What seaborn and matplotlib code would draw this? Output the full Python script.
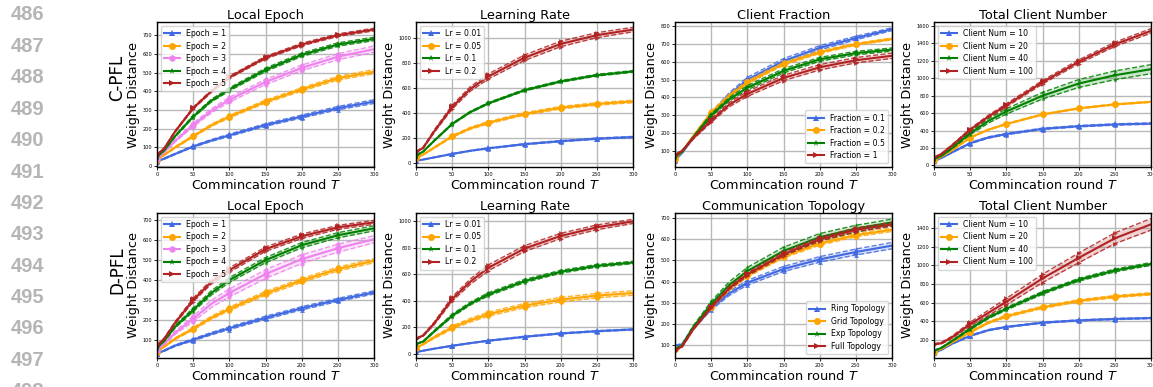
"""
Weight distance vs. communication round for C-PFL and D-PFL settings.
Rebuilds a 2x4 grid of line plots with shaded bands and dashed bounds.
"""

import matplotlib

matplotlib.use("Agg")
import matplotlib.pyplot as plt
import seaborn as sns

# --- 1. Data ---

T = [0, 10, 25, 50, 75, 100, 150, 200, 250, 300]
MARK_IDX = [0, 3, 5, 6, 7, 8]  # markers at 0, 50, ..., 250

BLUE, ORANGE, PINK, GREEN, RED = "#4169E1", "#FFA500", "#EE82EE", "#008000", "#B22222"

# C-PFL, Local Epoch
epoch_labels = ["Epoch = 1", "Epoch = 2", "Epoch = 3", "Epoch = 4", "Epoch = 5"]
c_epoch_mean = [
    [25, 40, 65, 105, 137, 165, 220, 265, 310, 345],
    [35, 60, 100, 160, 218, 265, 345, 410, 470, 505],
    [40, 75, 135, 220, 295, 355, 450, 525, 585, 625],
    [50, 85, 160, 265, 350, 410, 515, 595, 650, 680],
    [60, 95, 185, 310, 400, 475, 580, 650, 700, 730],
]
c_epoch_spread = [
    [2, 3, 3, 4, 5, 6, 7, 8, 9, 10],
    [2, 3, 4, 5, 6, 7, 8, 9, 10, 11],
    [3, 4, 6, 9, 11, 13, 14, 15, 16, 17],
    [2, 3, 4, 6, 7, 8, 9, 9, 9, 9],
    [2, 3, 4, 5, 6, 6, 7, 7, 7, 7],
]

# C-PFL, Learning Rate
lr_labels = ["Lr = 0.01", "Lr = 0.05", "Lr = 0.1", "Lr = 0.2"]
c_lr_mean = [
    [15, 25, 42, 70, 95, 115, 148, 172, 192, 205],
    [35, 65, 120, 210, 275, 320, 390, 440, 470, 490],
    [55, 90, 175, 310, 405, 475, 580, 650, 700, 730],
    [85, 120, 250, 445, 590, 690, 840, 950, 1020, 1065],
]
c_lr_spread = [
    [1, 2, 2, 3, 3, 4, 4, 5, 5, 5],
    [2, 3, 5, 7, 8, 9, 10, 10, 10, 10],
    [2, 3, 4, 5, 6, 6, 7, 7, 7, 7],
    [4, 6, 10, 15, 18, 20, 22, 22, 20, 18],
]

# C-PFL, Client Fraction
frac_labels = ["Fraction = 0.1", "Fraction = 0.2", "Fraction = 0.5", "Fraction = 1"]
c_frac_mean = [
    [45, 90, 175, 305, 415, 500, 605, 680, 735, 785],
    [55, 95, 180, 315, 410, 485, 590, 655, 700, 730],
    [65, 95, 175, 300, 390, 455, 550, 615, 650, 670],
    [75, 100, 170, 270, 360, 420, 510, 570, 610, 635],
]
c_frac_spread = [
    [3, 4, 6, 10, 12, 14, 14, 12, 10, 8],
    [2, 3, 5, 7, 8, 9, 8, 7, 6, 5],
    [2, 3, 5, 8, 10, 12, 12, 11, 10, 9],
    [3, 4, 6, 10, 12, 14, 15, 15, 15, 15],
]

# C-PFL, Total Client Number
num_labels = ["Client Num = 10", "Client Num = 20", "Client Num = 40", "Client Num = 100"]
c_num_mean = [
    [50, 85, 150, 255, 320, 360, 420, 450, 470, 480],
    [60, 100, 175, 320, 410, 475, 585, 655, 700, 730],
    [75, 110, 200, 370, 510, 620, 800, 940, 1035, 1105],
    [90, 130, 230, 410, 560, 690, 955, 1190, 1390, 1545],
]
c_num_spread = [
    [3, 4, 5, 7, 8, 8, 8, 8, 8, 8],
    [3, 4, 5, 6, 6, 6, 6, 6, 6, 6],
    [4, 6, 10, 18, 25, 30, 38, 45, 50, 52],
    [4, 6, 8, 12, 15, 18, 20, 22, 24, 26],
]

# D-PFL, Local Epoch
d_epoch_mean = [
    [30, 45, 70, 100, 130, 158, 210, 258, 300, 338],
    [40, 65, 105, 155, 210, 255, 333, 398, 455, 497],
    [50, 80, 135, 205, 280, 335, 430, 505, 560, 605],
    [60, 95, 165, 250, 335, 400, 500, 575, 625, 660],
    [70, 105, 185, 300, 390, 450, 555, 620, 665, 690],
]
d_epoch_spread = [
    [2, 3, 4, 5, 6, 7, 8, 8, 8, 8],
    [2, 3, 4, 6, 8, 9, 10, 10, 10, 10],
    [3, 5, 8, 14, 18, 20, 22, 22, 20, 18],
    [3, 4, 6, 9, 11, 12, 13, 13, 13, 13],
    [3, 4, 6, 9, 10, 11, 11, 11, 10, 10],
]

# D-PFL, Learning Rate
d_lr_mean = [
    [15, 25, 40, 62, 82, 100, 130, 155, 172, 185],
    [45, 75, 125, 200, 255, 300, 365, 410, 440, 460],
    [75, 95, 170, 290, 380, 450, 550, 620, 665, 690],
    [115, 140, 230, 415, 545, 650, 795, 890, 955, 1000],
]
d_lr_spread = [
    [1, 2, 2, 3, 3, 3, 4, 4, 4, 4],
    [3, 5, 8, 12, 14, 15, 16, 17, 17, 17],
    [3, 4, 6, 10, 11, 12, 12, 11, 10, 9],
    [4, 6, 10, 16, 20, 22, 22, 20, 18, 16],
]

# D-PFL, Communication Topology
topo_labels = ["Ring Topology", "Grid Topology", "Exp Topology", "Full Topology"]
d_topo_mean = [
    [95, 105, 180, 275, 345, 395, 460, 505, 540, 570],
    [80, 100, 180, 280, 365, 430, 520, 580, 620, 645],
    [80, 100, 185, 295, 385, 450, 545, 610, 650, 680],
    [75, 95, 175, 280, 370, 435, 530, 600, 645, 670],
]
d_topo_spread = [
    [4, 5, 6, 8, 10, 11, 12, 13, 14, 15],
    [2, 3, 4, 6, 7, 8, 8, 8, 8, 8],
    [3, 4, 6, 12, 15, 17, 18, 17, 16, 15],
    [2, 3, 4, 6, 7, 8, 9, 9, 9, 9],
]

# D-PFL, Total Client Number
d_num_mean = [
    [60, 95, 160, 245, 305, 340, 385, 410, 425, 435],
    [75, 105, 175, 285, 385, 455, 550, 620, 665, 695],
    [85, 115, 190, 320, 440, 535, 705, 845, 945, 1015],
    [155, 165, 230, 370, 490, 610, 860, 1080, 1290, 1440],
]
d_num_spread = [
    [3, 4, 5, 6, 6, 6, 6, 6, 6, 6],
    [3, 4, 6, 8, 10, 12, 12, 12, 12, 12],
    [3, 4, 6, 10, 12, 14, 15, 15, 15, 15],
    [5, 8, 12, 20, 28, 35, 45, 52, 58, 62],
]

LINE_NUMBERS = [486, 487, 488, 489, 490, 491, 492, 493, 494, 495, 496, 497, 498]

# --- 2. Plot helpers ---

STYLE5 = [(BLUE, "^"), (ORANGE, "o"), (PINK, "h"), (GREEN, "*"), (RED, ">")]
STYLE4 = [(BLUE, "^"), (ORANGE, "o"), (GREEN, "*"), (RED, ">")]


def plot_panel(ax, labels, means, spreads, title, legend_loc, ylim):
    styles = STYLE5 if len(labels) == 5 else STYLE4
    for lab, mean, spr, (color, marker) in zip(labels, means, spreads, styles):
        lower = [m - s for m, s in zip(mean, spr)]
        upper = [m + s for m, s in zip(mean, spr)]
        ax.fill_between(T, lower, upper, color=color, alpha=0.2, lw=0)
        for bound in (lower, upper):
            sns.lineplot(
                x=T, y=bound, ax=ax, color=color, lw=1.0, ls="--",
                marker=marker, markevery=MARK_IDX, markersize=3.5,
                markeredgewidth=0, alpha=0.85,
            )
        sns.lineplot(
            x=T, y=mean, ax=ax, color=color, lw=1.5, label=lab,
            marker=marker, markevery=MARK_IDX, markersize=5, markeredgewidth=0,
        )

    ax.set_xlim(0, 300)
    ax.set_ylim(*ylim)
    ax.set_xticks([0, 50, 100, 150, 200, 250, 300])
    ax.set_title(title, fontsize=9.3, pad=2)
    ax.set_xlabel("Commincation round $T$", fontsize=9.3, labelpad=1)
    ax.set_ylabel("Weight Distance", fontsize=9.3, labelpad=2)
    ax.tick_params(labelsize=3.6, length=2, width=0.6, pad=1.5)
    ax.grid(True, color="#b8b8b8", lw=1.0)
    ax.set_axisbelow(True)
    for sp in ax.spines.values():
        sp.set_linewidth(1.0)
    ax.legend(loc=legend_loc, fontsize=5.6, handlelength=2.0,
              borderpad=0.4, labelspacing=0.45, handletextpad=0.8)


# --- 3. Figure ---

fig, axes = plt.subplots(2, 4, figsize=(11.53, 3.87), dpi=100)
fig.subplots_adjust(left=0.1362, right=0.9983, bottom=0.075, top=0.943,
                    wspace=0.1935, hspace=0.317)

panels = [
    (axes[0, 0], epoch_labels, c_epoch_mean, c_epoch_spread, "Local Epoch", "upper left", (-5, 770)),
    (axes[0, 1], lr_labels, c_lr_mean, c_lr_spread, "Learning Rate", "upper left", (-35, 1125)),
    (axes[0, 2], frac_labels, c_frac_mean, c_frac_spread, "Client Fraction", "lower right", (8, 825)),
    (axes[0, 3], num_labels, c_num_mean, c_num_spread, "Total Client Number", "upper left", (-19, 1646)),
    (axes[1, 0], epoch_labels, d_epoch_mean, d_epoch_spread, "Local Epoch", "upper left", (8, 737)),
    (axes[1, 1], lr_labels, d_lr_mean, d_lr_spread, "Learning Rate", "upper left", (-30, 1063)),
    (axes[1, 2], topo_labels, d_topo_mean, d_topo_spread, "Communication Topology", "lower right", (40, 724)),
    (axes[1, 3], num_labels, d_num_mean, d_num_spread, "Total Client Number", "upper left", (7, 1561)),
]
for ax, labels, means, spreads, title, loc, ylim in panels:
    plot_panel(ax, labels, means, spreads, title, loc, ylim)

# row labels
fig.text(117 / 1153, 1 - 78 / 387, "C-PFL", rotation=90, fontsize=12,
         ha="center", va="center")
fig.text(117 / 1153, 1 - 270 / 387, "D-PFL", rotation=90, fontsize=12,
         ha="center", va="center")

# manuscript line numbers in the left margin
for i, n in enumerate(LINE_NUMBERS):
    y_px = 15 + i * 31.4
    fig.text(27.5 / 1153, 1 - y_px / 387, str(n), fontsize=14.5,
             fontweight="bold", family="Liberation Sans", color="#b5b5b5",
             ha="center", va="center")

fig.savefig("out.png", dpi=100)
